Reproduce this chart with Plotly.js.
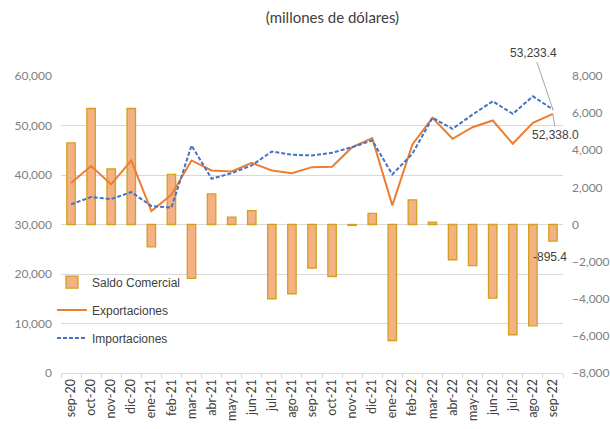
<!DOCTYPE html>
<html>
<head>
<meta charset="utf-8">
<script src="https://cdn.plot.ly/plotly-3.0.1.min.js"></script>
<style>html,body{margin:0;padding:0;background:#fff;overflow:hidden;}#chart{width:610px;height:429px;}</style>
</head>
<body>
<div id="chart"></div>
<script>
var categories = ["sep-20","oct-20","nov-20","dic-20","ene-21","feb-21","mar-21","abr-21","may-21","jun-21","jul-21","ago-21","sep-21","oct-21","nov-21","dic-21","ene-22","feb-22","mar-22","abr-22","may-22","jun-22","jul-22","ago-22","sep-22"];
var saldo = [4400, 6250, 3000, 6250, -1200, 2700, -2900, 1650, 400, 750, -4000, -3730, -2350, -2800, -50, 600, -6250, 1330, 130, -1900, -2220, -3970, -5940, -5460, -895.4];
var exportaciones = [38370, 41800, 38100, 42940, 32720, 36030, 42940, 40930, 40730, 42440, 40930, 40380, 41590, 41670, 45620, 47440, 33870, 46170, 51550, 47320, 49660, 51010, 46310, 50540, 52338.0];
var importaciones = [34070, 35550, 35140, 36550, 33730, 33400, 45970, 39250, 40380, 41930, 44760, 44090, 43950, 44490, 45620, 46980, 40120, 44290, 51550, 49330, 52220, 54900, 52350, 55900, 53233.4];
var leftTicks = [0, 10000, 20000, 30000, 40000, 50000, 60000];
var rightTicks = [-8000, -6000, -4000, -2000, 0, 2000, 4000, 6000, 8000];

var axisFont = {family: "Lato, 'DejaVu Sans', sans-serif", size: 12, color: "#808080"};
var annFont = {family: "'Liberation Sans', Arial, sans-serif", size: 12, color: "#404040"};
var last = categories.length - 1;

var traces = [
  {type: "bar", name: "Saldo Comercial", x: categories, y: saldo, yaxis: "y",
   width: 0.42, marker: {color: "rgb(244,177,131)", line: {color: "rgb(212,160,30)", width: 1.3}},
   legendgroup: "a"},
  {type: "scatter", mode: "lines", name: "Exportaciones", x: categories, y: exportaciones, yaxis: "y2",
   line: {color: "#ED7D31", width: 2}, legendgroup: "b"},
  {type: "scatter", mode: "lines", name: "Importaciones", x: categories, y: importaciones, yaxis: "y2",
   line: {color: "#4472C4", width: 2, dash: "4px,2px"}, legendgroup: "c"}
];

var layout = {
  width: 610, height: 429,
  margin: {l: 61, r: 47, t: 76, b: 56, autoexpand: false},
  paper_bgcolor: "#fff", plot_bgcolor: "rgba(0,0,0,0)",
  title: {text: "(millones de dólares)", x: 0.545, xanchor: "center", y: 0.958, yanchor: "middle",
          font: {family: "Lato, 'DejaVu Sans', sans-serif", size: 15, color: "#404040"}},
  showlegend: true,
  legend: {x: -0.018, xanchor: "left", y: 0.355, yanchor: "top", bgcolor: "rgba(0,0,0,0)",
           tracegroupgap: 9, traceorder: "grouped",
           font: {family: "'Liberation Sans', Arial, sans-serif", size: 12, color: "#404040"}},
  xaxis: {type: "category", range: [-0.5, categories.length - 0.5], tickangle: -90, showgrid: false,
          showline: true, linecolor: "#d9d9d9",
          ticks: "outside", tickson: "boundaries", ticklen: 4, tickcolor: "#d9d9d9",
          tickfont: {family: "Lato, 'DejaVu Sans', sans-serif", size: 12.5, color: "#404040"},
          automargin: false, fixedrange: true},
  yaxis: {side: "right", range: [-8000, 8000], tickvals: rightTicks, tickformat: ",d",
          showgrid: false, zeroline: false, showline: false, ticks: "",
          ticklabelstandoff: 8, tickfont: axisFont, automargin: false},
  yaxis2: {overlaying: "y", side: "left", range: [0, 60000], tickvals: leftTicks, tickformat: ",d",
           showgrid: true, gridcolor: "#d9d9d9", gridwidth: 1, zeroline: false, showline: false, ticks: "",
           ticklabelstandoff: 8, tickfont: axisFont, automargin: false},
  annotations: [
    {x: categories[last], y: importaciones[last], xref: "x", yref: "y2",
     text: importaciones[last].toLocaleString("en-US", {minimumFractionDigits: 1}),
     showarrow: true, arrowhead: 0, arrowwidth: 1, arrowcolor: "#a6a6a6", ax: -19, ay: -56,
     font: annFont},
    {x: categories[last], y: exportaciones[last], xref: "x", yref: "y2",
     text: exportaciones[last].toLocaleString("en-US", {minimumFractionDigits: 1}),
     showarrow: true, arrowhead: 0, arrowwidth: 1, arrowcolor: "#a6a6a6", ax: 3, ay: 21,
     font: annFont},
    {x: categories[last], y: saldo[last], xref: "x", yref: "y",
     text: saldo[last].toLocaleString("en-US", {minimumFractionDigits: 1}),
     showarrow: false, xshift: -3, yshift: -16, font: annFont}
  ]
};

Plotly.newPlot("chart", traces, layout, {displayModeBar: false, staticPlot: true});
</script>
</body>
</html>
